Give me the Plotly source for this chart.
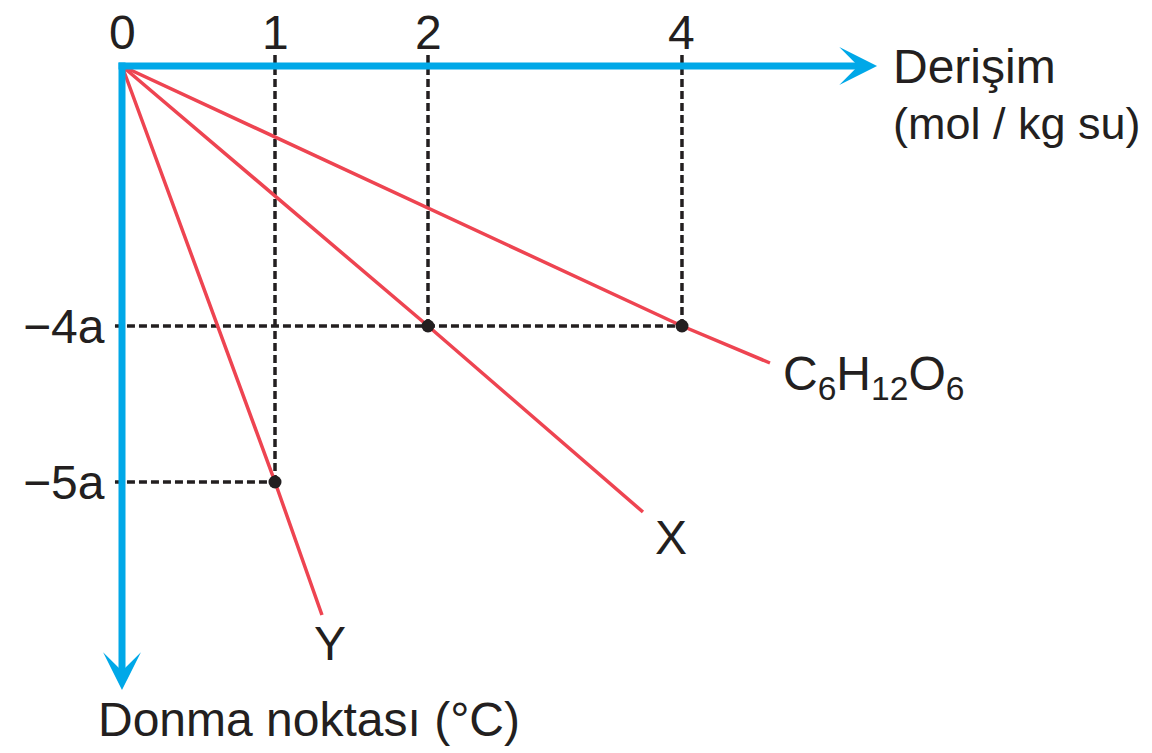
import plotly.graph_objects as go

# ---- data (diagram positions) ----
# concentration ticks (mol / kg su): labels and their drawn positions
conc_labels = ["0", "1", "2", "4"]
conc_pos = [0.0, 1.0, 2.0, 3.66]

# freezing point ticks: labels and drawn positions
fp_labels = ["\u22124a", "\u22125a"]
fp_pos = [-4.0, -6.4]

# series lines (origin -> data point -> end of drawn line)
series_names = ["C<sub>6</sub>H<sub>12</sub>O<sub>6</sub>", "X", "Y"]
c6_x = [0.0, 3.66, 4.235]
c6_y = [0.0, -4.0, -4.569]
x_x = [0.0, 2.0, 3.405]
x_y = [0.0, -4.0, -6.862]
y_x = [0.0, 1.0, 1.307]
y_y = [0.0, -6.4, -8.446]

# marked points
pt_x = [3.66, 2.0, 1.0]
pt_y = [-4.0, -4.0, -6.4]

BLUE = "#00a8e8"
RED = "#ee4451"
INK = "#231f20"
FONT = "Liberation Sans, Arial, sans-serif"
FS = 48

fig = go.Figure()

dash = "8px,4px"
# vertical dotted guides from the top of the axis down to each point
for px_, py_ in zip(pt_x, pt_y):
    fig.add_trace(go.Scatter(x=[px_, px_], y=[0.17, py_], mode="lines",
                             line=dict(color=INK, width=3.5, dash=dash),
                             hoverinfo="skip", showlegend=False))
# horizontal dotted guides
for px_, py_ in [(pt_x[0], pt_y[0]), (pt_x[2], pt_y[2])]:
    fig.add_trace(go.Scatter(x=[-0.046, px_], y=[py_, py_], mode="lines",
                             line=dict(color=INK, width=3.5, dash=dash),
                             hoverinfo="skip", showlegend=False))

for xs, ys in [(c6_x, c6_y), (x_x, x_y), (y_x, y_y)]:
    fig.add_trace(go.Scatter(x=xs, y=ys, mode="lines",
                             line=dict(color=RED, width=3.5),
                             hoverinfo="skip", showlegend=False))

fig.add_trace(go.Scatter(x=pt_x, y=pt_y, mode="markers",
                         marker=dict(color=INK, size=13),
                         hoverinfo="skip", showlegend=False))

ann = []
# axes with arrowheads
ann.append(dict(x=4.935, y=0, ax=-0.026, ay=0, xref="x", yref="y", axref="x", ayref="y",
                text="", showarrow=True, arrowhead=3, arrowwidth=7, arrowsize=0.9,
                arrowcolor=BLUE, font=dict(size=1), standoff=0, borderpad=0))
ann.append(dict(x=0, y=-9.6, ax=0, ay=0.06, xref="x", yref="y", axref="x", ayref="y",
                text="", showarrow=True, arrowhead=3, arrowwidth=7, arrowsize=0.9,
                arrowcolor=BLUE, font=dict(size=1), standoff=0, borderpad=0))

txt = dict(showarrow=False, font=dict(family=FONT, size=FS, color=INK),
           xref="x", yref="y")
for lab, pos in zip(conc_labels, conc_pos):
    ann.append(dict(x=pos, y=0.515, text=lab, xanchor="center", yanchor="middle", **txt))
for lab, pos in zip(fp_labels, fp_pos):
    ann.append(dict(x=-0.098, y=pos, text=lab, xanchor="right", yanchor="middle", **txt))

ann.append(dict(x=5.026, y=-0.008, text="Deri\u015fim", xanchor="left", yanchor="middle", **txt))
ann.append(dict(x=5.026, y=-0.885, text="(mol / kg su)", xanchor="left", yanchor="middle",
                showarrow=False, xref="x", yref="y",
                font=dict(family=FONT, size=45, color=INK)))
ann.append(dict(x=-0.17, y=-10.06, text="Donma noktas\u0131 (\u00b0C)", xanchor="left", yanchor="middle", **txt))

ann.append(dict(x=4.31, y=-4.777, text=series_names[0], xanchor="left", yanchor="middle", **txt))
ann.append(dict(x=3.588, y=-7.26, text=series_names[1], xanchor="center", yanchor="middle", **txt))
ann.append(dict(x=1.359, y=-8.877, text=series_names[2], xanchor="center", yanchor="middle", **txt))

fig.update_layout(
    width=1152, height=753,
    margin=dict(l=0, r=0, t=0, b=0),
    paper_bgcolor="white", plot_bgcolor="white",
    xaxis=dict(range=[-122 / 153, (1152 - 122) / 153], visible=False, fixedrange=True),
    yaxis=dict(range=[-(753 - 66) / 65, 66 / 65], visible=False, fixedrange=True),
    annotations=ann,
    showlegend=False,
)

fig.write_html(
    "out.html",
    config={"displayModeBar": False},
    post_script="document.body.style.margin='0';document.body.style.overflow='hidden';",
)
